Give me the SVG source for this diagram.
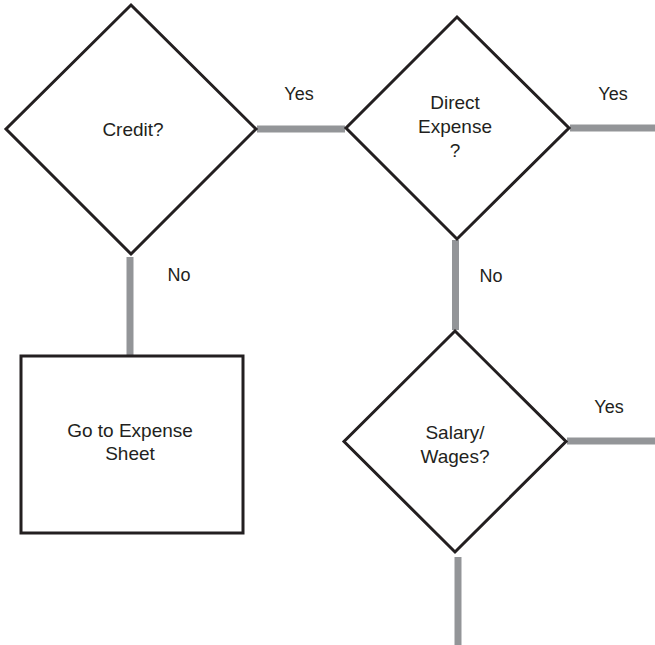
<svg xmlns="http://www.w3.org/2000/svg" width="655" height="645" viewBox="0 0 655 645">
  <style>
    .shape { fill: #ffffff; stroke: #231f20; stroke-width: 3; stroke-linejoin: miter; }
    .link { stroke: #939598; stroke-width: 7; fill: none; }
    .txt { font-family: "Liberation Sans", Arial, sans-serif; font-size: 19px; fill: #231f20; text-anchor: middle; }
    .lbl { font-family: "Liberation Sans", Arial, sans-serif; font-size: 18px; fill: #231f20; text-anchor: middle; }
  </style>
  <rect width="655" height="645" fill="#ffffff"/>

  <!-- connectors -->
  <g id="connectors">
    <line class="link" x1="257" y1="129" x2="345" y2="129"/>
    <line class="link" x1="570" y1="128" x2="655" y2="128"/>
    <line class="link" x1="130" y1="257" x2="130" y2="356"/>
    <line class="link" x1="455.5" y1="240" x2="455.5" y2="330"/>
    <line class="link" x1="567" y1="441" x2="655" y2="441"/>
    <line class="link" x1="458" y1="557" x2="458" y2="645"/>
    <text class="lbl" x="299" y="100">Yes</text>
    <text class="lbl" x="613" y="100">Yes</text>
    <text class="lbl" x="179" y="281">No</text>
    <text class="lbl" x="491" y="282">No</text>
    <text class="lbl" x="609" y="413">Yes</text>
  </g>

  <!-- decision: credit -->
  <g id="credit">
    <polygon class="shape" points="131,5 256,129 131,254 6,129"/>
    <text class="txt" x="133" y="136">Credit?</text>
  </g>

  <!-- decision: direct expense -->
  <g id="direct-expense">
    <polygon class="shape" points="457,17 569,128 457,239 346,128"/>
    <text class="txt" x="455" y="109">Direct</text>
    <text class="txt" x="455" y="133">Expense</text>
    <text class="txt" x="455" y="157">?</text>
  </g>

  <!-- process: expense sheet -->
  <g id="expense-sheet">
    <rect class="shape" x="21" y="356" width="222" height="177"/>
    <text class="txt" x="130" y="437">Go to Expense</text>
    <text class="txt" x="130" y="460">Sheet</text>
  </g>

  <!-- decision: salary / wages -->
  <g id="salary-wages">
    <polygon class="shape" points="455,331 566,441.5 455,552 344,441.5"/>
    <text class="txt" x="455" y="439">Salary/</text>
    <text class="txt" x="455" y="463">Wages?</text>
  </g>
</svg>
